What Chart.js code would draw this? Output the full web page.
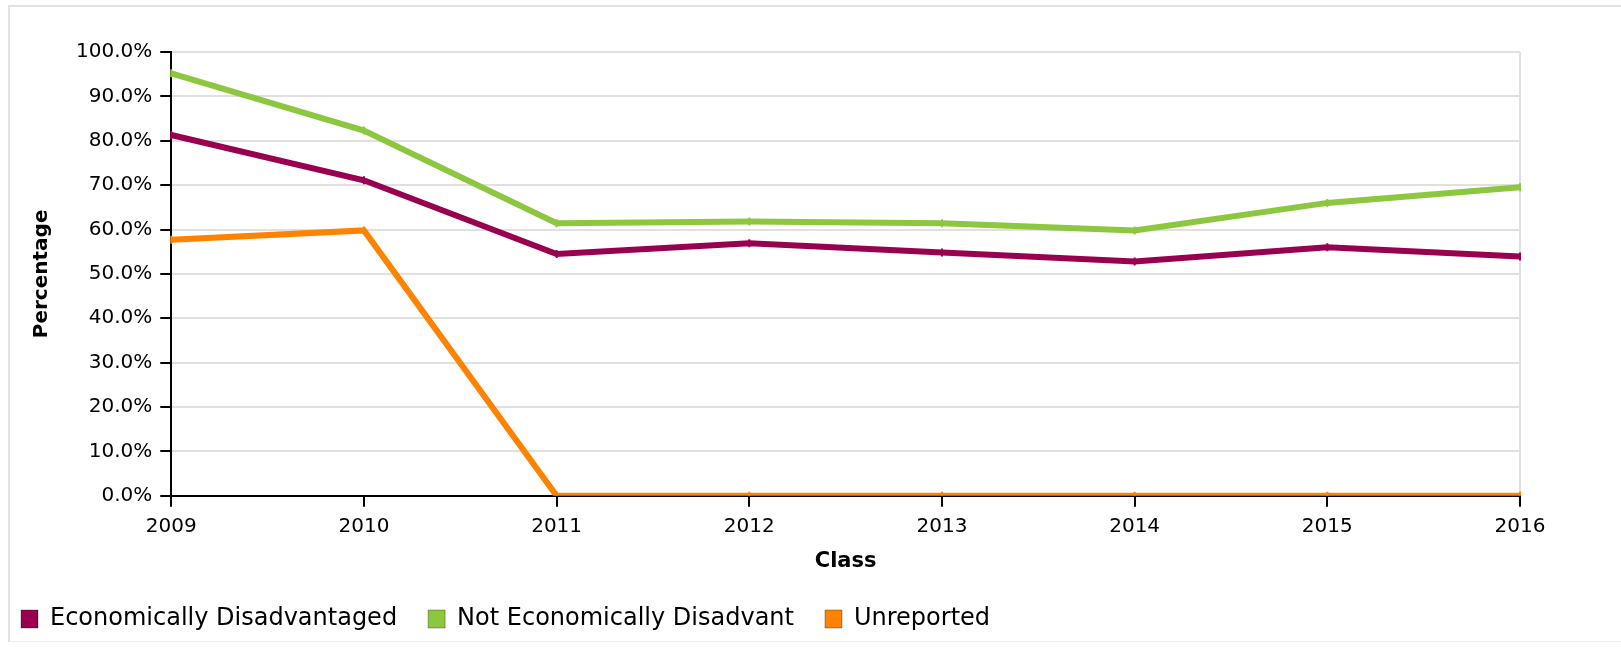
<!DOCTYPE html>
<html>
<head>
<meta charset="utf-8">
<script src="https://cdn.jsdelivr.net/npm/chart.js@4.4.1/dist/chart.umd.min.js"></script>
<style>
  html, body { margin: 0; padding: 0; background: #fff; overflow: hidden; }
  #frame {
    position: absolute; left: 8px; top: 5px; width: 1620px; height: 634px;
    border-top: 2px solid #e2e2e2; border-left: 2px solid #e2e2e2; border-bottom: 1px solid #ececec;
  }
  #wrap { position: absolute; left: -10px; top: 0; width: 1631px; height: 647px; }
</style>
</head>
<body>
<div id="frame"></div>
<div id="wrap"><canvas id="classChart"></canvas></div>
<script>
// ==========================================
// DATA
// ==========================================
const classYears = ["2009", "2010", "2011", "2012", "2013", "2014", "2015", "2016"];
const econDisadvantaged = [81.3, 71.1, 54.5, 56.9, 54.8, 52.8, 56.0, 53.9];
const notEconDisadvantaged = [95.2, 82.3, 61.4, 61.8, 61.4, 59.8, 66.0, 69.5];
const unreported = [57.7, 59.8, 0, 0, 0, 0, 0, 0];
const yTicks = [0, 10, 20, 30, 40, 50, 60, 70, 80, 90, 100];

const seriesNames = ["Economically Disadvantaged", "Not Economically Disadvant", "Unreported"];
const seriesColors = ["#990050", "#8dc63f", "#ff8200"];

const FONT = "'DejaVu Sans', 'Liberation Sans', sans-serif";
const gridColor = "#e0e0e0";

function makeLine(label, data, color) {
  return {
    label,
    data,
    borderColor: color,
    backgroundColor: color,
    borderWidth: 6,
    tension: 0,
    pointStyle: "line",
    pointRotation: 90,
    pointRadius: 4,
    pointBorderWidth: 2,
    pointHoverRadius: 4,
  };
}

const datasets = [
  makeLine(seriesNames[0], econDisadvantaged, seriesColors[0]),
  makeLine(seriesNames[1], notEconDisadvantaged, seriesColors[1]),
  makeLine(seriesNames[2], unreported, seriesColors[2]),
];

const ctx = document.getElementById("classChart").getContext("2d");

new Chart(ctx, {
  type: "line",
  data: { labels: classYears, datasets },
  options: {
    responsive: true,
    maintainAspectRatio: false,
    animation: false,
    layout: { padding: { left: 0, top: 52, right: 101, bottom: 6 } },
    scales: {
      x: {
        z: 1,
        offset: false,
        border: { color: "#000", width: 2 },
        grid: {
          color: (c) => (c.index === classYears.length - 1 ? gridColor : "rgba(0,0,0,0)"),
          lineWidth: 2,
          tickColor: "#000",
          tickWidth: 2,
          tickLength: 11,
        },
        ticks: {
          color: "#000",
          padding: 8,
          maxRotation: 0,
          font: { family: FONT, size: 20 },
        },
        title: {
          display: true,
          text: "Class",
          color: "#000",
          padding: { top: 2, bottom: 2 },
          font: { family: FONT, size: 21, weight: "bold" },
        },
      },
      y: {
        min: 0,
        max: 100,
        afterBuildTicks: (scale) => {
          scale.ticks = yTicks.map((v) => ({ value: v }));
        },
        border: { color: "#000", width: 2 },
        grid: {
          color: gridColor,
          lineWidth: 2,
          tickColor: "#000",
          tickWidth: 2,
          tickLength: 11,
        },
        ticks: {
          color: "#000",
          padding: 8,
          font: { family: FONT, size: 20 },
          callback: (v) => `${Number(v).toFixed(1)}%`,
        },
        title: {
          display: true,
          text: "Percentage",
          color: "#000",
          padding: { top: 40, bottom: 14 },
          font: { family: FONT, size: 20, weight: "bold" },
        },
      },
    },
    plugins: {
      legend: {
        position: "bottom",
        align: "start",
        labels: {
          color: "#000",
          boxWidth: 17,
          boxHeight: 18,
          padding: 31,
          font: { family: FONT, size: 24 },
          generateLabels: (chart) =>
            Chart.defaults.plugins.legend.labels.generateLabels(chart).map((item) => ({
              ...item,
              lineWidth: 1,
              strokeStyle: "rgba(0,0,0,0.3)",
            })),
        },
      },
      tooltip: { enabled: false },
    },
  },
});
</script>
</body>
</html>
